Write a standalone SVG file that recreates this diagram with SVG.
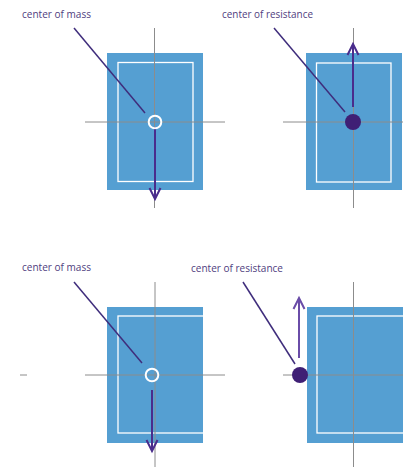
<svg xmlns="http://www.w3.org/2000/svg" width="403" height="467" viewBox="0 0 403 467">
<style>
.bg{fill:#ffffff}
.block{fill:#559fd2}
.inner{fill:none;stroke:#ffffff;stroke-width:1.3}
.axis{stroke:#8c8c8c;stroke-width:1;fill:none}
.lead{stroke:#3f2d7c;stroke-width:1.5;fill:none}
.force{stroke:#4a2c8c;stroke-width:2;fill:none}
.force2{stroke:#6a4ca8;stroke-width:2;fill:none}
.lbl{font-family:"Open Sans","Noto Sans",sans-serif;font-size:10.5px;fill:#504080}
.cm{fill:none;stroke:#ffffff;stroke-width:2}
.cr{fill:#3f1f75}
</style>
<rect class="bg" x="0" y="0" width="403" height="467"/>
<defs>
<clipPath id="clipL"><rect x="107" y="307" width="96" height="136"/></clipPath>
<clipPath id="clipR"><rect x="307" y="307" width="96" height="136"/></clipPath>
</defs>
<g id="block-top-left">
<rect class="block" x="107" y="53" width="96" height="137"/>
<rect class="inner" x="118" y="62.5" width="75" height="119"/>
</g>
<g id="block-top-right">
<rect class="block" x="306" y="53" width="96" height="137"/>
<rect class="inner" x="316.5" y="63" width="74.5" height="119"/>
</g>
<g id="block-bottom-left">
<rect class="block" x="107" y="307" width="96" height="136"/>
<g clip-path="url(#clipL)"><rect class="inner" x="118" y="316" width="100" height="117"/></g>
</g>
<g id="block-bottom-right">
<rect class="block" x="307" y="307" width="96" height="136"/>
<g clip-path="url(#clipR)"><rect class="inner" x="317" y="316" width="100" height="117"/></g>
</g>
<g id="axes">
<line class="axis" x1="154.5" y1="28" x2="154.5" y2="208"/>
<line class="axis" x1="85" y1="122" x2="225" y2="122"/>
<line class="axis" x1="353.5" y1="28" x2="353.5" y2="208"/>
<line class="axis" x1="283" y1="122" x2="403" y2="122"/>
<line class="axis" x1="155" y1="282" x2="155" y2="467"/>
<line class="axis" x1="85" y1="375" x2="225" y2="375"/>
<line class="axis" x1="20" y1="375" x2="27" y2="375"/>
<line class="axis" x1="353.5" y1="282" x2="353.5" y2="467"/>
<line class="axis" x1="283" y1="375" x2="403" y2="375"/>
</g>
<g id="connectors">
<line class="lead" x1="74" y1="28" x2="145" y2="113"/>
<line class="lead" x1="274" y1="28" x2="345" y2="112"/>
<line class="lead" x1="74" y1="282" x2="142" y2="363"/>
<line class="lead" x1="243" y1="282" x2="295" y2="364"/>
<path class="force" d="M155 127 V199 M149.5 188 L155 199 L160.5 188"/>
<path class="force" d="M353 107 V44 M347.5 55 L353 44 L358.5 55"/>
<path class="force" d="M152 390 V451 M146.5 440 L152 451 L157.5 440"/>
<path class="force2" d="M299 358 V298 M293.5 309 L299 298 L304.5 309"/>
</g>
<g id="center-of-mass-top">
<circle class="cm" cx="155" cy="122" r="6.3"/>
</g>
<g id="center-of-resistance-top">
<circle class="cr" cx="353" cy="122" r="8"/>
</g>
<g id="center-of-mass-bottom">
<circle class="cm" cx="152" cy="375" r="6.3"/>
</g>
<g id="center-of-resistance-bottom">
<circle class="cr" cx="300" cy="375" r="8"/>
</g>
<g id="labels">
<text class="lbl" x="22" y="17.5" textLength="69" lengthAdjust="spacingAndGlyphs">center of mass</text>
<text class="lbl" x="222" y="17.5" textLength="91" lengthAdjust="spacingAndGlyphs">center of resistance</text>
<text class="lbl" x="22" y="270.5" textLength="69" lengthAdjust="spacingAndGlyphs">center of mass</text>
<text class="lbl" x="191" y="271.5" textLength="92" lengthAdjust="spacingAndGlyphs">center of resistance</text>
</g>
</svg>
